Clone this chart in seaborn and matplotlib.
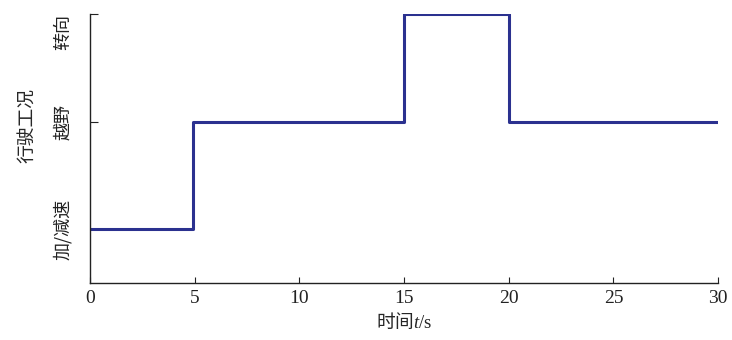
import matplotlib
matplotlib.use("Agg")
import matplotlib.pyplot as plt
import seaborn as sns
import pandas as pd

# data
times = [0, 4.9, 15, 20, 30]
levels = [1, 2, 3, 2, 2]
level_values = [1, 2, 3]
level_labels = ["加/减速", "越野", "转向"]
x_ticks = [0, 5, 10, 15, 20, 25, 30]

sns.set_style("white")
plt.rcParams['font.family'] = ['Liberation Serif', 'Noto Sans CJK SC', 'DejaVu Sans']
plt.rcParams['mathtext.fontset'] = 'custom'
plt.rcParams['mathtext.it'] = 'Liberation Serif:italic'
plt.rcParams['mathtext.rm'] = 'Liberation Serif'

df = pd.DataFrame({"t": times, "level": levels})

fig = plt.figure(figsize=(7.32, 3.40), dpi=100)
ax = fig.add_axes([0.123, 0.168, 0.858, 0.791])

sns.lineplot(data=df, x="t", y="level", ax=ax, drawstyle="steps-post",
             color="#2b318f", linewidth=2.2, sort=False)

ax.set_xlim(0, 30)
ax.set_ylim(0.5, 3)
ax.set_xticks(x_ticks)
ax.set_xticklabels([str(v) for v in x_ticks], fontsize=14, family='Liberation Serif')
ax.set_yticks(level_values)
ax.set_yticklabels(level_labels, rotation=90, va='center', fontsize=13,
                   family=['Noto Sans CJK SC'])
ax.get_yticklabels()[-1].set_va('top')

for s in ['top', 'right']:
    ax.spines[s].set_visible(False)
for s in ['left', 'bottom']:
    ax.spines[s].set_color('#222222')
    ax.spines[s].set_linewidth(1.0)

ax.tick_params(axis='x', bottom=True, direction='in', length=4, width=0.8, pad=5, colors='#222222')
ax.tick_params(axis='y', left=True, direction='in', length=6, width=0.8, pad=13, colors='#222222')

ax.set_xlabel("时间$t/\\mathrm{s}$", fontsize=13.5, family=['Noto Sans CJK SC'])
ax.xaxis.set_label_coords(0.5, -0.11)
ax.set_ylabel("行驶工况", fontsize=13.5, family=['Noto Sans CJK SC'])
ax.yaxis.set_label_coords(-0.084, 0.587)

fig.savefig("out.png", dpi=100)
